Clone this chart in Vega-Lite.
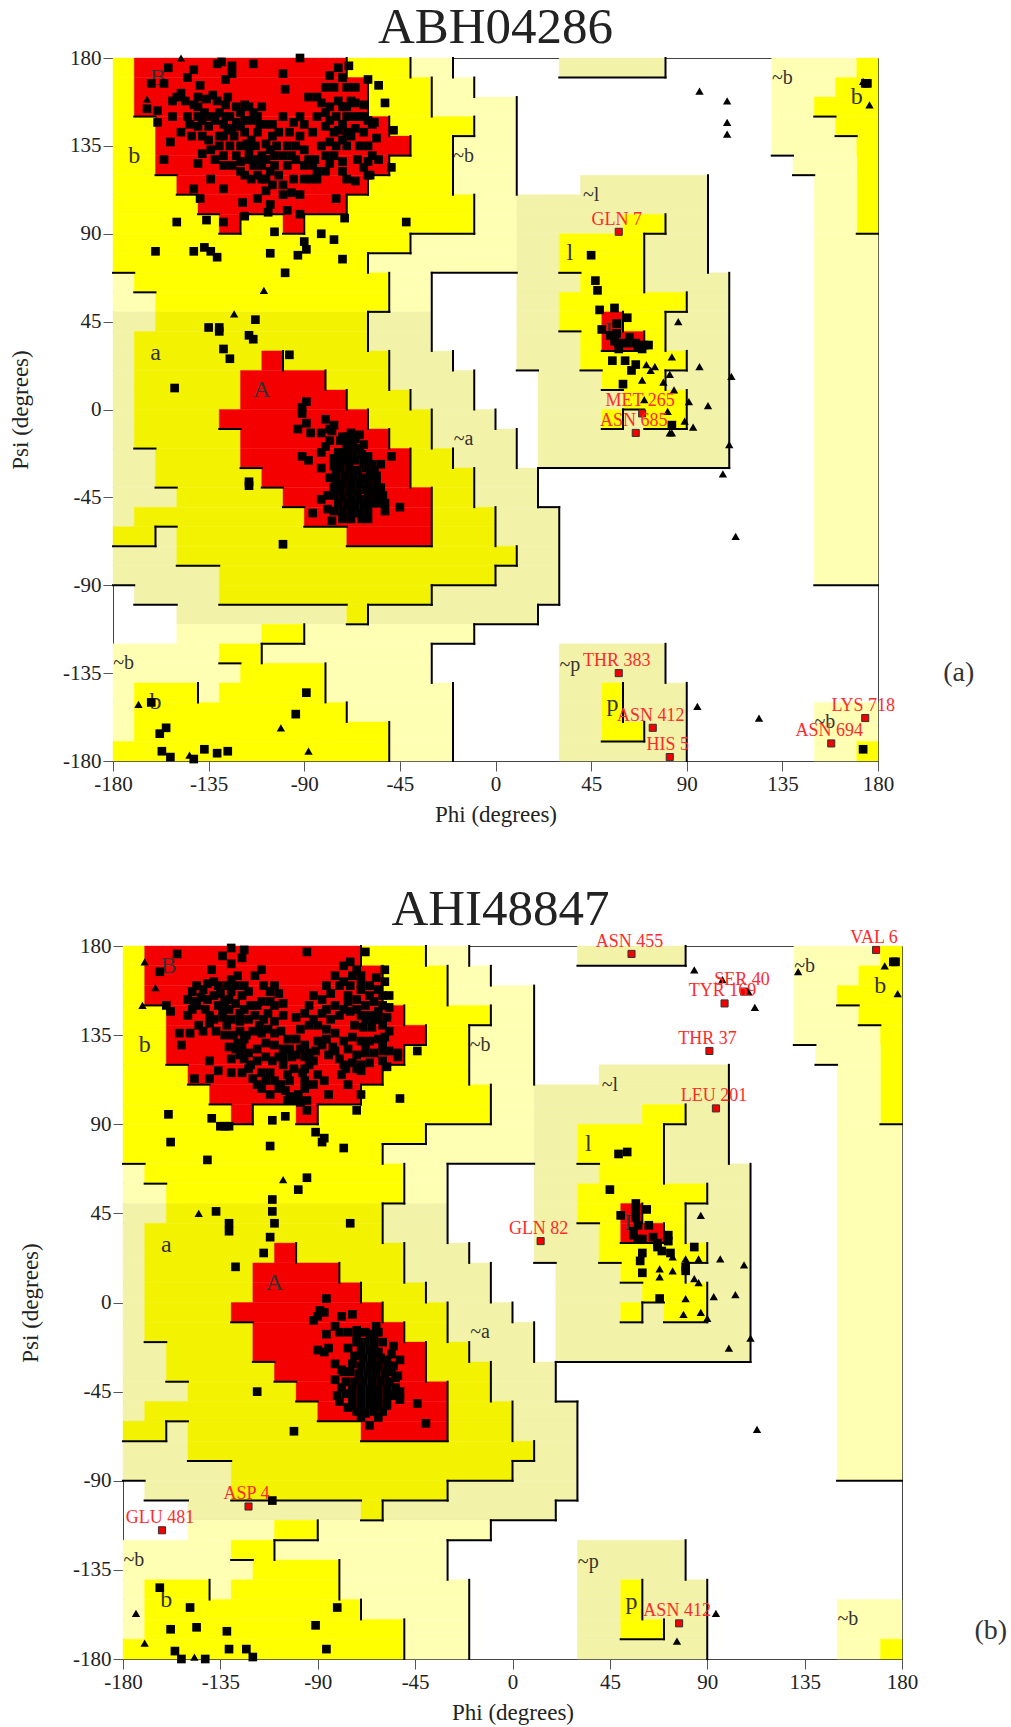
{"$schema":"https://vega.github.io/schema/vega-lite/v6.json","padding":{"left":8,"top":1,"right":0,"bottom":0},"background":"white","spacing":56,
"config":{"view":{"stroke":"#444","strokeWidth":1},"font":"Liberation Serif","axis":{"grid":false,"labelFont":"Liberation Serif","titleFont":"Liberation Serif","labelFontSize":21,"titleFontSize":23,"titleFontWeight":"normal","tickSize":10,"tickColor":"#555","domainColor":"#444","labelColor":"#222","titleColor":"#222","labelFlush":false,"labelOverlap":false}},
"datasets":{
"regions":[
{"x1":-180,"x2":-170,"y1":170,"y2":180,"z":"add"},{"x1":-170,"x2":-70,"y1":170,"y2":180,"z":"core"},{"x1":-70,"x2":-40,"y1":170,"y2":180,"z":"add"},{"x1":-40,"x2":-20,"y1":170,"y2":180,"z":"gen"},{"x1":30,"x2":80,"y1":170,"y2":180,"z":"genA"},{"x1":130,"x2":170,"y1":170,"y2":180,"z":"gen"},{"x1":170,"x2":180,"y1":170,"y2":180,"z":"add"},
{"x1":-180,"x2":-170,"y1":160,"y2":170,"z":"add"},{"x1":-170,"x2":-60,"y1":160,"y2":170,"z":"core"},{"x1":-60,"x2":-30,"y1":160,"y2":170,"z":"add"},{"x1":-30,"x2":-10,"y1":160,"y2":170,"z":"gen"},{"x1":130,"x2":160,"y1":160,"y2":170,"z":"gen"},{"x1":160,"x2":180,"y1":160,"y2":170,"z":"add"},
{"x1":-180,"x2":-170,"y1":150,"y2":160,"z":"add"},{"x1":-170,"x2":-60,"y1":150,"y2":160,"z":"core"},{"x1":-60,"x2":-30,"y1":150,"y2":160,"z":"add"},{"x1":-30,"x2":10,"y1":150,"y2":160,"z":"gen"},{"x1":130,"x2":150,"y1":150,"y2":160,"z":"gen"},{"x1":150,"x2":180,"y1":150,"y2":160,"z":"add"},
{"x1":-180,"x2":-160,"y1":140,"y2":150,"z":"add"},{"x1":-160,"x2":-50,"y1":140,"y2":150,"z":"core"},{"x1":-50,"x2":-10,"y1":140,"y2":150,"z":"add"},{"x1":-10,"x2":10,"y1":140,"y2":150,"z":"gen"},{"x1":130,"x2":160,"y1":140,"y2":150,"z":"gen"},{"x1":160,"x2":180,"y1":140,"y2":150,"z":"add"},
{"x1":-180,"x2":-160,"y1":130,"y2":140,"z":"add"},{"x1":-160,"x2":-40,"y1":130,"y2":140,"z":"core"},{"x1":-40,"x2":-20,"y1":130,"y2":140,"z":"add"},{"x1":-20,"x2":10,"y1":130,"y2":140,"z":"gen"},{"x1":130,"x2":170,"y1":130,"y2":140,"z":"gen"},{"x1":170,"x2":180,"y1":90,"y2":140,"z":"add"},
{"x1":-180,"x2":-160,"y1":120,"y2":130,"z":"add"},{"x1":-160,"x2":-50,"y1":120,"y2":130,"z":"core"},{"x1":-50,"x2":-20,"y1":120,"y2":130,"z":"add"},{"x1":-20,"x2":10,"y1":120,"y2":130,"z":"gen"},{"x1":140,"x2":170,"y1":120,"y2":130,"z":"gen"},
{"x1":-180,"x2":-150,"y1":110,"y2":120,"z":"add"},{"x1":-150,"x2":-60,"y1":110,"y2":120,"z":"core"},{"x1":-60,"x2":-20,"y1":110,"y2":120,"z":"add"},{"x1":-20,"x2":10,"y1":110,"y2":120,"z":"gen"},{"x1":40,"x2":100,"y1":110,"y2":120,"z":"genA"},{"x1":150,"x2":170,"y1":90,"y2":120,"z":"gen"},
{"x1":-180,"x2":-140,"y1":100,"y2":110,"z":"add"},{"x1":-140,"x2":-70,"y1":100,"y2":110,"z":"core"},{"x1":-70,"x2":-10,"y1":100,"y2":110,"z":"add"},{"x1":-10,"x2":10,"y1":100,"y2":110,"z":"gen"},{"x1":10,"x2":100,"y1":100,"y2":110,"z":"genA"},
{"x1":-180,"x2":-130,"y1":90,"y2":100,"z":"add"},{"x1":-130,"x2":-120,"y1":90,"y2":100,"z":"core"},{"x1":-120,"x2":-100,"y1":90,"y2":100,"z":"add"},{"x1":-100,"x2":-90,"y1":90,"y2":100,"z":"core"},{"x1":-90,"x2":-10,"y1":90,"y2":100,"z":"add"},{"x1":-10,"x2":10,"y1":90,"y2":100,"z":"gen"},{"x1":10,"x2":60,"y1":90,"y2":100,"z":"genA"},{"x1":60,"x2":80,"y1":90,"y2":100,"z":"add"},{"x1":80,"x2":100,"y1":90,"y2":100,"z":"genA"},
{"x1":-180,"x2":-40,"y1":80,"y2":90,"z":"add"},{"x1":-40,"x2":10,"y1":80,"y2":90,"z":"gen"},{"x1":10,"x2":30,"y1":80,"y2":90,"z":"genA"},{"x1":30,"x2":70,"y1":80,"y2":90,"z":"add"},{"x1":70,"x2":100,"y1":80,"y2":90,"z":"genA"},{"x1":150,"x2":180,"y1":-90,"y2":90,"z":"gen"},
{"x1":-180,"x2":-60,"y1":70,"y2":80,"z":"add"},{"x1":-60,"x2":10,"y1":70,"y2":80,"z":"gen"},{"x1":10,"x2":30,"y1":70,"y2":80,"z":"genA"},{"x1":30,"x2":70,"y1":70,"y2":80,"z":"add"},{"x1":70,"x2":100,"y1":70,"y2":80,"z":"genA"},
{"x1":-180,"x2":-170,"y1":60,"y2":70,"z":"gen"},{"x1":-170,"x2":-50,"y1":60,"y2":70,"z":"add"},{"x1":-50,"x2":-30,"y1":60,"y2":70,"z":"gen"},{"x1":10,"x2":40,"y1":60,"y2":70,"z":"genA"},{"x1":40,"x2":70,"y1":60,"y2":70,"z":"add"},{"x1":70,"x2":110,"y1":60,"y2":70,"z":"genA"},
{"x1":-180,"x2":-160,"y1":50,"y2":60,"z":"gen"},{"x1":-160,"x2":-50,"y1":50,"y2":60,"z":"add"},{"x1":-50,"x2":-30,"y1":50,"y2":60,"z":"gen"},{"x1":10,"x2":30,"y1":50,"y2":60,"z":"genA"},{"x1":30,"x2":90,"y1":50,"y2":60,"z":"add"},{"x1":90,"x2":110,"y1":50,"y2":60,"z":"genA"},
{"x1":-180,"x2":-160,"y1":40,"y2":50,"z":"genA"},{"x1":-160,"x2":-60,"y1":40,"y2":50,"z":"addA"},{"x1":-60,"x2":-30,"y1":40,"y2":50,"z":"genA"},{"x1":10,"x2":30,"y1":40,"y2":50,"z":"genA"},{"x1":30,"x2":50,"y1":40,"y2":50,"z":"add"},{"x1":50,"x2":60,"y1":40,"y2":50,"z":"core"},{"x1":60,"x2":80,"y1":40,"y2":50,"z":"add"},{"x1":80,"x2":110,"y1":40,"y2":50,"z":"genA"},
{"x1":-180,"x2":-170,"y1":30,"y2":40,"z":"genA"},{"x1":-170,"x2":-60,"y1":30,"y2":40,"z":"addA"},{"x1":-60,"x2":-30,"y1":30,"y2":40,"z":"genA"},{"x1":10,"x2":40,"y1":30,"y2":40,"z":"genA"},{"x1":40,"x2":50,"y1":30,"y2":40,"z":"add"},{"x1":50,"x2":70,"y1":30,"y2":40,"z":"core"},{"x1":70,"x2":80,"y1":30,"y2":40,"z":"add"},{"x1":80,"x2":110,"y1":30,"y2":40,"z":"genA"},
{"x1":-180,"x2":-170,"y1":20,"y2":30,"z":"genA"},{"x1":-170,"x2":-110,"y1":20,"y2":30,"z":"addA"},{"x1":-110,"x2":-100,"y1":20,"y2":30,"z":"core"},{"x1":-100,"x2":-50,"y1":20,"y2":30,"z":"addA"},{"x1":-50,"x2":-20,"y1":20,"y2":30,"z":"genA"},{"x1":10,"x2":40,"y1":20,"y2":30,"z":"genA"},{"x1":40,"x2":90,"y1":20,"y2":30,"z":"add"},{"x1":90,"x2":110,"y1":20,"y2":30,"z":"genA"},
{"x1":-180,"x2":-170,"y1":10,"y2":20,"z":"genA"},{"x1":-170,"x2":-120,"y1":10,"y2":20,"z":"addA"},{"x1":-120,"x2":-80,"y1":10,"y2":20,"z":"core"},{"x1":-80,"x2":-50,"y1":10,"y2":20,"z":"addA"},{"x1":-50,"x2":-10,"y1":10,"y2":20,"z":"genA"},{"x1":20,"x2":50,"y1":10,"y2":20,"z":"genA"},{"x1":50,"x2":80,"y1":10,"y2":20,"z":"add"},{"x1":80,"x2":110,"y1":10,"y2":20,"z":"genA"},
{"x1":-180,"x2":-170,"y1":0,"y2":10,"z":"genA"},{"x1":-170,"x2":-120,"y1":0,"y2":10,"z":"addA"},{"x1":-120,"x2":-70,"y1":0,"y2":10,"z":"core"},{"x1":-70,"x2":-40,"y1":0,"y2":10,"z":"addA"},{"x1":-40,"x2":-10,"y1":0,"y2":10,"z":"genA"},{"x1":20,"x2":60,"y1":0,"y2":10,"z":"genA"},{"x1":60,"x2":90,"y1":0,"y2":10,"z":"add"},{"x1":90,"x2":110,"y1":0,"y2":10,"z":"genA"},
{"x1":-180,"x2":-170,"y1":-10,"y2":0,"z":"genA"},{"x1":-170,"x2":-130,"y1":-10,"y2":0,"z":"addA"},{"x1":-130,"x2":-60,"y1":-10,"y2":0,"z":"core"},{"x1":-60,"x2":-30,"y1":-10,"y2":0,"z":"addA"},{"x1":-30,"x2":0,"y1":-10,"y2":0,"z":"genA"},{"x1":20,"x2":50,"y1":-10,"y2":0,"z":"genA"},{"x1":50,"x2":60,"y1":-10,"y2":0,"z":"add"},{"x1":60,"x2":70,"y1":-10,"y2":0,"z":"genA"},{"x1":70,"x2":90,"y1":-10,"y2":0,"z":"add"},{"x1":90,"x2":110,"y1":-10,"y2":0,"z":"genA"},
{"x1":-180,"x2":-170,"y1":-20,"y2":-10,"z":"genA"},{"x1":-170,"x2":-120,"y1":-20,"y2":-10,"z":"addA"},{"x1":-120,"x2":-50,"y1":-20,"y2":-10,"z":"core"},{"x1":-50,"x2":-30,"y1":-20,"y2":-10,"z":"addA"},{"x1":-30,"x2":10,"y1":-20,"y2":-10,"z":"genA"},{"x1":20,"x2":110,"y1":-20,"y2":-10,"z":"genA"},
{"x1":-180,"x2":-160,"y1":-30,"y2":-20,"z":"genA"},{"x1":-160,"x2":-120,"y1":-30,"y2":-20,"z":"addA"},{"x1":-120,"x2":-40,"y1":-30,"y2":-20,"z":"core"},{"x1":-40,"x2":-20,"y1":-30,"y2":-20,"z":"addA"},{"x1":-20,"x2":10,"y1":-30,"y2":-20,"z":"genA"},{"x1":20,"x2":110,"y1":-30,"y2":-20,"z":"genA"},
{"x1":-180,"x2":-160,"y1":-40,"y2":-30,"z":"genA"},{"x1":-160,"x2":-110,"y1":-40,"y2":-30,"z":"addA"},{"x1":-110,"x2":-40,"y1":-40,"y2":-30,"z":"core"},{"x1":-40,"x2":-10,"y1":-40,"y2":-30,"z":"addA"},{"x1":-10,"x2":20,"y1":-40,"y2":-30,"z":"genA"},
{"x1":-180,"x2":-150,"y1":-50,"y2":-40,"z":"genA"},{"x1":-150,"x2":-100,"y1":-50,"y2":-40,"z":"addA"},{"x1":-100,"x2":-30,"y1":-50,"y2":-40,"z":"core"},{"x1":-30,"x2":-10,"y1":-50,"y2":-40,"z":"addA"},{"x1":-10,"x2":20,"y1":-50,"y2":-40,"z":"genA"},
{"x1":-180,"x2":-170,"y1":-60,"y2":-50,"z":"genA"},{"x1":-170,"x2":-90,"y1":-60,"y2":-50,"z":"addA"},{"x1":-90,"x2":-30,"y1":-60,"y2":-50,"z":"core"},{"x1":-30,"x2":0,"y1":-60,"y2":-50,"z":"addA"},{"x1":0,"x2":30,"y1":-60,"y2":-50,"z":"genA"},
{"x1":-180,"x2":-160,"y1":-70,"y2":-60,"z":"addA"},{"x1":-160,"x2":-150,"y1":-70,"y2":-60,"z":"genA"},{"x1":-150,"x2":-70,"y1":-70,"y2":-60,"z":"addA"},{"x1":-70,"x2":-30,"y1":-70,"y2":-60,"z":"core"},{"x1":-30,"x2":0,"y1":-70,"y2":-60,"z":"addA"},{"x1":0,"x2":30,"y1":-70,"y2":-60,"z":"genA"},
{"x1":-180,"x2":-150,"y1":-80,"y2":-70,"z":"genA"},{"x1":-150,"x2":10,"y1":-80,"y2":-70,"z":"addA"},{"x1":10,"x2":30,"y1":-80,"y2":-70,"z":"genA"},
{"x1":-180,"x2":-130,"y1":-90,"y2":-80,"z":"genA"},{"x1":-130,"x2":0,"y1":-90,"y2":-80,"z":"addA"},{"x1":0,"x2":30,"y1":-90,"y2":-80,"z":"genA"},
{"x1":-170,"x2":-130,"y1":-100,"y2":-90,"z":"genA"},{"x1":-130,"x2":-30,"y1":-100,"y2":-90,"z":"addA"},{"x1":-30,"x2":30,"y1":-100,"y2":-90,"z":"genA"},
{"x1":-150,"x2":-70,"y1":-110,"y2":-100,"z":"genA"},{"x1":-70,"x2":-60,"y1":-110,"y2":-100,"z":"addA"},{"x1":-60,"x2":20,"y1":-110,"y2":-100,"z":"genA"},
{"x1":-150,"x2":-110,"y1":-120,"y2":-110,"z":"gen"},{"x1":-110,"x2":-90,"y1":-120,"y2":-110,"z":"add"},{"x1":-90,"x2":-10,"y1":-120,"y2":-110,"z":"gen"},
{"x1":-180,"x2":-130,"y1":-130,"y2":-120,"z":"gen"},{"x1":-130,"x2":-110,"y1":-130,"y2":-120,"z":"add"},{"x1":-110,"x2":-30,"y1":-130,"y2":-120,"z":"gen"},{"x1":30,"x2":80,"y1":-130,"y2":-120,"z":"genA"},
{"x1":-180,"x2":-120,"y1":-140,"y2":-130,"z":"gen"},{"x1":-120,"x2":-80,"y1":-140,"y2":-130,"z":"add"},{"x1":-80,"x2":-30,"y1":-140,"y2":-130,"z":"gen"},{"x1":30,"x2":80,"y1":-140,"y2":-130,"z":"genA"},
{"x1":-180,"x2":-170,"y1":-150,"y2":-140,"z":"gen"},{"x1":-170,"x2":-140,"y1":-150,"y2":-140,"z":"add"},{"x1":-140,"x2":-130,"y1":-150,"y2":-140,"z":"gen"},{"x1":-130,"x2":-80,"y1":-150,"y2":-140,"z":"add"},{"x1":-80,"x2":-20,"y1":-150,"y2":-140,"z":"gen"},{"x1":30,"x2":50,"y1":-150,"y2":-140,"z":"genA"},{"x1":50,"x2":60,"y1":-150,"y2":-140,"z":"add"},{"x1":60,"x2":90,"y1":-150,"y2":-140,"z":"genA"},
{"x1":-180,"x2":-170,"y1":-160,"y2":-150,"z":"gen"},{"x1":-170,"x2":-70,"y1":-160,"y2":-150,"z":"add"},{"x1":-70,"x2":-20,"y1":-160,"y2":-150,"z":"gen"},{"x1":30,"x2":50,"y1":-160,"y2":-150,"z":"genA"},{"x1":50,"x2":60,"y1":-160,"y2":-150,"z":"add"},{"x1":60,"x2":90,"y1":-160,"y2":-150,"z":"genA"},{"x1":150,"x2":180,"y1":-170,"y2":-150,"z":"gen"},
{"x1":-180,"x2":-170,"y1":-170,"y2":-160,"z":"gen"},{"x1":-170,"x2":-50,"y1":-170,"y2":-160,"z":"add"},{"x1":-50,"x2":-20,"y1":-170,"y2":-160,"z":"gen"},{"x1":30,"x2":50,"y1":-170,"y2":-160,"z":"genA"},{"x1":50,"x2":70,"y1":-170,"y2":-160,"z":"add"},{"x1":70,"x2":90,"y1":-170,"y2":-160,"z":"genA"},
{"x1":-180,"x2":-50,"y1":-180,"y2":-170,"z":"add"},{"x1":-50,"x2":-20,"y1":-180,"y2":-170,"z":"gen"},{"x1":30,"x2":90,"y1":-180,"y2":-170,"z":"genA"},{"x1":150,"x2":170,"y1":-180,"y2":-170,"z":"gen"},{"x1":170,"x2":180,"y1":-180,"y2":-170,"z":"add"}
],
"edges":[
{"x1":-160,"x2":-160,"y1":-70,"y2":-60},{"x1":-140,"x2":-140,"y1":-150,"y2":-140},{"x1":-120,"x2":-120,"y1":90,"y2":100},{"x1":-110,"x2":-110,"y1":-130,"y2":-120},{"x1":-100,"x2":-100,"y1":20,"y2":30},{"x1":-90,"x2":-90,"y1":90,"y2":100},{"x1":-90,"x2":-90,"y1":-120,"y2":-110},{"x1":-80,"x2":-80,"y1":10,"y2":20},{"x1":-80,"x2":-80,"y1":-150,"y2":-130},
{"x1":-70,"x2":-70,"y1":170,"y2":180},{"x1":-70,"x2":-70,"y1":100,"y2":110},{"x1":-70,"x2":-70,"y1":0,"y2":10},{"x1":-70,"x2":-70,"y1":-160,"y2":-150},
{"x1":-60,"x2":-60,"y1":150,"y2":170},{"x1":-60,"x2":-60,"y1":110,"y2":120},{"x1":-60,"x2":-60,"y1":70,"y2":80},{"x1":-60,"x2":-60,"y1":30,"y2":50},{"x1":-60,"x2":-60,"y1":-10,"y2":0},{"x1":-60,"x2":-60,"y1":-110,"y2":-100},
{"x1":-50,"x2":-50,"y1":140,"y2":150},{"x1":-50,"x2":-50,"y1":120,"y2":130},{"x1":-50,"x2":-50,"y1":50,"y2":70},{"x1":-50,"x2":-50,"y1":10,"y2":30},{"x1":-50,"x2":-50,"y1":-20,"y2":-10},{"x1":-50,"x2":-50,"y1":-180,"y2":-160},
{"x1":-40,"x2":-40,"y1":170,"y2":180},{"x1":-40,"x2":-40,"y1":130,"y2":140},{"x1":-40,"x2":-40,"y1":80,"y2":90},{"x1":-40,"x2":-40,"y1":0,"y2":10},{"x1":-40,"x2":-40,"y1":-40,"y2":-20},
{"x1":-30,"x2":-30,"y1":150,"y2":170},{"x1":-30,"x2":-30,"y1":30,"y2":70},{"x1":-30,"x2":-30,"y1":-20,"y2":0},{"x1":-30,"x2":-30,"y1":-70,"y2":-40},{"x1":-30,"x2":-30,"y1":-100,"y2":-90},{"x1":-30,"x2":-30,"y1":-140,"y2":-120},
{"x1":-20,"x2":-20,"y1":170,"y2":180},{"x1":-20,"x2":-20,"y1":110,"y2":140},{"x1":-20,"x2":-20,"y1":20,"y2":30},{"x1":-20,"x2":-20,"y1":-30,"y2":-20},{"x1":-20,"x2":-20,"y1":-180,"y2":-140},
{"x1":-10,"x2":-10,"y1":160,"y2":170},{"x1":-10,"x2":-10,"y1":140,"y2":150},{"x1":-10,"x2":-10,"y1":90,"y2":110},{"x1":-10,"x2":-10,"y1":0,"y2":20},{"x1":-10,"x2":-10,"y1":-50,"y2":-30},{"x1":-10,"x2":-10,"y1":-120,"y2":-110},
{"x1":0,"x2":0,"y1":-10,"y2":0},{"x1":0,"x2":0,"y1":-70,"y2":-50},{"x1":0,"x2":0,"y1":-90,"y2":-80},
{"x1":10,"x2":10,"y1":110,"y2":160},{"x1":10,"x2":10,"y1":-30,"y2":-10},{"x1":10,"x2":10,"y1":-80,"y2":-70},{"x1":20,"x2":20,"y1":-50,"y2":-30},{"x1":20,"x2":20,"y1":-110,"y2":-100},{"x1":30,"x2":30,"y1":-100,"y2":-50},
{"x1":60,"x2":60,"y1":40,"y2":50},{"x1":60,"x2":60,"y1":-10,"y2":0},{"x1":60,"x2":60,"y1":-160,"y2":-140},{"x1":70,"x2":70,"y1":60,"y2":90},{"x1":70,"x2":70,"y1":30,"y2":40},{"x1":70,"x2":70,"y1":-170,"y2":-160},
{"x1":80,"x2":80,"y1":170,"y2":180},{"x1":80,"x2":80,"y1":90,"y2":100},{"x1":80,"x2":80,"y1":30,"y2":50},{"x1":80,"x2":80,"y1":10,"y2":20},{"x1":80,"x2":80,"y1":-140,"y2":-120},
{"x1":90,"x2":90,"y1":50,"y2":60},{"x1":90,"x2":90,"y1":20,"y2":30},{"x1":90,"x2":90,"y1":-10,"y2":10},{"x1":90,"x2":90,"y1":-180,"y2":-140},{"x1":100,"x2":100,"y1":70,"y2":120},{"x1":110,"x2":110,"y1":-30,"y2":70},
{"x1":30,"x2":80,"y1":170,"y2":170},{"x1":-170,"x2":-160,"y1":150,"y2":150},{"x1":150,"x2":160,"y1":150,"y2":150},{"x1":-20,"x2":-10,"y1":140,"y2":140},{"x1":160,"x2":170,"y1":140,"y2":140},{"x1":-50,"x2":-40,"y1":130,"y2":130},{"x1":130,"x2":140,"y1":130,"y2":130},
{"x1":-160,"x2":-150,"y1":120,"y2":120},{"x1":-60,"x2":-50,"y1":120,"y2":120},{"x1":140,"x2":150,"y1":120,"y2":120},{"x1":-150,"x2":-140,"y1":110,"y2":110},{"x1":-70,"x2":-60,"y1":110,"y2":110},
{"x1":-140,"x2":-130,"y1":100,"y2":100},{"x1":-120,"x2":-100,"y1":100,"y2":100},{"x1":-90,"x2":-70,"y1":100,"y2":100},
{"x1":-130,"x2":-120,"y1":90,"y2":90},{"x1":-100,"x2":-90,"y1":90,"y2":90},{"x1":-40,"x2":-10,"y1":90,"y2":90},{"x1":70,"x2":80,"y1":90,"y2":90},{"x1":170,"x2":180,"y1":90,"y2":90},
{"x1":-60,"x2":-40,"y1":80,"y2":80},{"x1":-180,"x2":-170,"y1":70,"y2":70},{"x1":-30,"x2":10,"y1":70,"y2":70},{"x1":30,"x2":40,"y1":70,"y2":70},{"x1":-170,"x2":-160,"y1":60,"y2":60},{"x1":-60,"x2":-50,"y1":50,"y2":50},{"x1":80,"x2":90,"y1":50,"y2":50},{"x1":30,"x2":40,"y1":40,"y2":40},{"x1":50,"x2":70,"y1":30,"y2":30},
{"x1":10,"x2":20,"y1":20,"y2":20},{"x1":40,"x2":50,"y1":20,"y2":20},{"x1":80,"x2":90,"y1":20,"y2":20},{"x1":50,"x2":60,"y1":10,"y2":10},{"x1":60,"x2":70,"y1":0,"y2":0},
{"x1":-130,"x2":-120,"y1":-10,"y2":-10},{"x1":50,"x2":60,"y1":-10,"y2":-10},{"x1":70,"x2":90,"y1":-10,"y2":-10},{"x1":-170,"x2":-160,"y1":-20,"y2":-20},{"x1":20,"x2":110,"y1":-30,"y2":-30},{"x1":-120,"x2":-110,"y1":-30,"y2":-30},{"x1":-160,"x2":-150,"y1":-40,"y2":-40},{"x1":-110,"x2":-100,"y1":-40,"y2":-40},{"x1":-100,"x2":-90,"y1":-50,"y2":-50},{"x1":20,"x2":30,"y1":-50,"y2":-50},{"x1":-160,"x2":-150,"y1":-60,"y2":-60},{"x1":-90,"x2":-70,"y1":-60,"y2":-60},
{"x1":-180,"x2":-160,"y1":-70,"y2":-70},{"x1":-70,"x2":-30,"y1":-70,"y2":-70},{"x1":-150,"x2":-130,"y1":-80,"y2":-80},{"x1":0,"x2":10,"y1":-80,"y2":-80},{"x1":-180,"x2":-170,"y1":-90,"y2":-90},{"x1":-30,"x2":0,"y1":-90,"y2":-90},{"x1":150,"x2":180,"y1":-90,"y2":-90},
{"x1":-170,"x2":-150,"y1":-100,"y2":-100},{"x1":-130,"x2":-70,"y1":-100,"y2":-100},{"x1":-60,"x2":-30,"y1":-100,"y2":-100},{"x1":20,"x2":30,"y1":-100,"y2":-100},{"x1":-70,"x2":-60,"y1":-110,"y2":-110},{"x1":-10,"x2":20,"y1":-110,"y2":-110},{"x1":-110,"x2":-90,"y1":-120,"y2":-120},{"x1":-30,"x2":-10,"y1":-120,"y2":-120},{"x1":-130,"x2":-120,"y1":-130,"y2":-130},{"x1":50,"x2":70,"y1":-170,"y2":-170}
],
"zoneLabels":[{"t":"B","phi":-159,"psi":170},{"t":"b","phi":-170,"psi":130},{"t":"a","phi":-160,"psi":29},{"t":"A","phi":-110,"psi":10},{"t":"b","phi":-160,"psi":-150},{"t":"l","phi":35,"psi":80},{"t":"L","phi":55,"psi":40},{"t":"b","phi":170,"psi":160},{"t":"p","phi":55,"psi":-151}],
"fringeLabels":[{"t":"~b","phi":-15,"psi":130},{"t":"~a","phi":-15,"psi":-15},{"t":"~b","phi":-175,"psi":-130},{"t":"~l","phi":45,"psi":110},{"t":"~b","phi":135,"psi":170},{"t":"~p","phi":35,"psi":-131},{"t":"~b","phi":155,"psi":-160}],
"flaggedA":[{"t":"GLN 7","phi":58,"psi":91},{"t":"MET 265","phi":69,"psi":-2},{"t":"ASN 685","phi":66,"psi":-12},{"t":"THR 383","phi":58,"psi":-135},{"t":"ASN 412","phi":74,"psi":-163},{"t":"HIS 5","phi":82,"psi":-178},{"t":"LYS 718","phi":174,"psi":-158},{"t":"ASN 694","phi":158,"psi":-171}],
"flaggedB":[{"t":"ASN 455","phi":55,"psi":176},{"t":"VAL 6","phi":168,"psi":178},{"t":"SER 40","phi":107,"psi":157},{"t":"TYR 169","phi":98,"psi":151},{"t":"THR 37","phi":91,"psi":127},{"t":"LEU 201","phi":94,"psi":98},{"t":"GLN 82","phi":13,"psi":31},{"t":"ASP 4","phi":-122,"psi":-103},{"t":"GLU 481","phi":-162,"psi":-115},{"t":"ASN 412","phi":77,"psi":-162}],
"triA":[{"phi":-164,"psi":159},{"phi":-148,"psi":180},{"phi":-109,"psi":61},{"phi":-123,"psi":49},{"phi":-168,"psi":-151},{"phi":-144,"psi":-177},{"phi":-101,"psi":-163},{"phi":-88,"psi":-175},{"phi":96,"psi":163},{"phi":109,"psi":158},{"phi":109,"psi":147},{"phi":109,"psi":141},{"phi":173,"psi":168},{"phi":176,"psi":156},{"phi":86,"psi":45},{"phi":83,"psi":27},{"phi":71,"psi":23},{"phi":75,"psi":22},{"phi":73,"psi":20},{"phi":96,"psi":22},{"phi":82,"psi":18},{"phi":79,"psi":14},{"phi":111,"psi":17},{"phi":69,"psi":15},{"phi":84,"psi":10},{"phi":70,"psi":5},{"phi":91,"psi":4},{"phi":100,"psi":2},{"phi":81,"psi":-1},{"phi":89,"psi":-6},{"phi":93,"psi":-9},{"phi":82,"psi":-12},{"phi":83,"psi":-12},{"phi":110,"psi":-18},{"phi":107,"psi":-33},{"phi":113,"psi":-65},{"phi":95,"psi":-152},{"phi":124,"psi":-158}],
"triB":[{"phi":-170,"psi":172},{"phi":-165,"psi":159},{"phi":-171,"psi":150},{"phi":-106,"psi":62},{"phi":-145,"psi":45},{"phi":-174,"psi":-157},{"phi":-170,"psi":-172},{"phi":-147,"psi":-179},{"phi":84,"psi":168},{"phi":97,"psi":163},{"phi":109,"psi":157},{"phi":112,"psi":149},{"phi":132,"psi":167},{"phi":172,"psi":170},{"phi":178,"psi":156},{"phi":87,"psi":44},{"phi":74,"psi":23},{"phi":80,"psi":22},{"phi":86,"psi":22},{"phi":96,"psi":22},{"phi":107,"psi":19},{"phi":68,"psi":17},{"phi":74,"psi":16},{"phi":68,"psi":13},{"phi":84,"psi":12},{"phi":86,"psi":10},{"phi":93,"psi":3},{"phi":103,"psi":4},{"phi":80,"psi":2},{"phi":79,"psi":-6},{"phi":87,"psi":-5},{"phi":90,"psi":-8},{"phi":110,"psi":-18},{"phi":100,"psi":-23},{"phi":113,"psi":-64},{"phi":94,"psi":-157},{"phi":76,"psi":-171}],
"sqA":[{"phi":-154,"psi":175},{"phi":-142,"psi":174},{"phi":-145,"psi":170},{"phi":-131,"psi":177},{"phi":-129,"psi":178},{"phi":-124,"psi":176},{"phi":-124,"psi":172},{"phi":-127,"psi":169},{"phi":-114,"psi":177},{"phi":-100,"psi":172},{"phi":-92,"psi":180},{"phi":-99,"psi":164},{"phi":-74,"psi":175},{"phi":-69,"psi":176},{"phi":-78,"psi":171},{"phi":-60,"psi":169},{"phi":-55,"psi":166},{"phi":-52,"psi":157},{"phi":-162,"psi":167},{"phi":-156,"psi":167},{"phi":-139,"psi":166},{"phi":-164,"psi":154},{"phi":-159,"psi":147},{"phi":-159,"psi":153},{"phi":-153,"psi":137},{"phi":-156,"psi":128},{"phi":-140,"psi":126},{"phi":-138,"psi":131},{"phi":-142,"psi":113},{"phi":-139,"psi":108},{"phi":-128,"psi":113},{"phi":-134,"psi":118},{"phi":-119,"psi":106},{"phi":-118,"psi":99},{"phi":-128,"psi":96},{"phi":-136,"psi":97},{"phi":-150,"psi":96},{"phi":-107,"psi":101},{"phi":-98,"psi":102},{"phi":-92,"psi":100},{"phi":-71,"psi":98},{"phi":-42,"psi":96},{"phi":-75,"psi":108},{"phi":-48,"psi":143},{"phi":-49,"psi":124},{"phi":-59,"psi":120},{"phi":-104,"psi":91},{"phi":-82,"psi":90},{"phi":-76,"psi":87},{"phi":-90,"psi":86},{"phi":-89,"psi":82},{"phi":-93,"psi":79},{"phi":-106,"psi":80},{"phi":-72,"psi":77},{"phi":-99,"psi":70},{"phi":-131,"psi":78},{"phi":-134,"psi":81},{"phi":-137,"psi":83},{"phi":-142,"psi":81},{"phi":-160,"psi":81},{"phi":-113,"psi":46},{"phi":-135,"psi":42},{"phi":-130,"psi":42},{"phi":-130,"psi":40},{"phi":-116,"psi":38},{"phi":-114,"psi":36},{"phi":-128,"psi":31},{"phi":-125,"psi":26},{"phi":-151,"psi":11},{"phi":-97,"psi":28},{"phi":-89,"psi":4},{"phi":-91,"psi":1},
{"phi":-140,"psi":155},{"phi":-142,"psi":156},{"phi":-136,"psi":159},{"phi":-133,"psi":161},{"phi":-131,"psi":158},{"phi":-127,"psi":156},{"phi":-130,"psi":152},{"phi":-150,"psi":160},{"phi":-148,"psi":162},{"phi":-152,"psi":158},{"phi":-146,"psi":158},{"phi":-152,"psi":150},{"phi":-145,"psi":150},{"phi":-140,"psi":150},{"phi":-148,"psi":142},{"phi":-143,"psi":140},{"phi":-138,"psi":148},{"phi":-135,"psi":145},{"phi":-132,"psi":148},{"phi":-128,"psi":146},{"phi":-125,"psi":150},{"phi":-120,"psi":152},{"phi":-118,"psi":156},{"phi":-116,"psi":155},{"phi":-115,"psi":148},{"phi":-112,"psi":150},{"phi":-120,"psi":145},{"phi":-123,"psi":140},{"phi":-118,"psi":142},{"phi":-112,"psi":142},{"phi":-108,"psi":146},{"phi":-105,"psi":140},{"phi":-135,"psi":138},{"phi":-130,"psi":135},{"phi":-125,"psi":135},{"phi":-120,"psi":135},{"phi":-132,"psi":128},{"phi":-128,"psi":125},{"phi":-122,"psi":130},{"phi":-116,"psi":132},{"phi":-113,"psi":135},{"phi":-110,"psi":130},{"phi":-114,"psi":125},{"phi":-112,"psi":120},{"phi":-108,"psi":128},{"phi":-104,"psi":125},{"phi":-100,"psi":130},{"phi":-98,"psi":135},{"phi":-103,"psi":135},{"phi":-102,"psi":142},{"phi":-97,"psi":142},{"phi":-100,"psi":150},{"phi":-95,"psi":147},{"phi":-92,"psi":140},{"phi":-92,"psi":150},{"phi":-90,"psi":146},{"phi":-94,"psi":128},{"phi":-90,"psi":125},{"phi":-88,"psi":128},{"phi":-87,"psi":118},{"phi":-85,"psi":128},{"phi":-88,"psi":160},{"phi":-84,"psi":160},{"phi":-82,"psi":157},{"phi":-80,"psi":165},{"phi":-76,"psi":165},{"phi":-70,"psi":165},{"phi":-72,"psi":155},{"phi":-68,"psi":158},{"phi":-66,"psi":157},{"phi":-62,"psi":156},{"phi":-64,"psi":150},{"phi":-60,"psi":148},{"phi":-70,"psi":150},{"phi":-72,"psi":146},{"phi":-75,"psi":150},{"phi":-78,"psi":148},{"phi":-80,"psi":145},{"phi":-66,"psi":144},{"phi":-62,"psi":142},{"phi":-58,"psi":146},{"phi":-57,"psi":147},{"phi":-68,"psi":140},{"phi":-72,"psi":138},{"phi":-76,"psi":142},{"phi":-82,"psi":135},{"phi":-80,"psi":130},{"phi":-75,"psi":135},{"phi":-70,"psi":135},{"phi":-64,"psi":135},{"phi":-60,"psi":135},{"phi":-56,"psi":139},{"phi":-58,"psi":130},{"phi":-60,"psi":127},{"phi":-62,"psi":124},{"phi":-65,"psi":128},{"phi":-55,"psi":128},{"phi":-72,"psi":127},{"phi":-72,"psi":122},{"phi":-70,"psi":118},{"phi":-66,"psi":117},{"phi":-60,"psi":120},{"phi":-80,"psi":122},{"phi":-84,"psi":118},{"phi":-90,"psi":118},{"phi":-95,"psi":118},{"phi":-100,"psi":115},{"phi":-105,"psi":115},{"phi":-110,"psi":118},{"phi":-115,"psi":118},{"phi":-100,"psi":110},{"phi":-96,"psi":111},{"phi":-92,"psi":110},{"phi":-108,"psi":112},{"phi":-112,"psi":108},{"phi":-106,"psi":105},
{"phi":-140,"psi":145},{"phi":-137,"psi":152},{"phi":-134,"psi":150},{"phi":-127,"psi":150},{"phi":-122,"psi":147},{"phi":-126,"psi":143},{"phi":-130,"psi":140},{"phi":-134,"psi":133},{"phi":-128,"psi":130},{"phi":-124,"psi":125},{"phi":-120,"psi":127},{"phi":-117,"psi":136},{"phi":-115,"psi":138},{"phi":-111,"psi":146},{"phi":-108,"psi":136},{"phi":-106,"psi":133},{"phi":-110,"psi":125},{"phi":-116,"psi":128},{"phi":-118,"psi":120},{"phi":-120,"psi":122},{"phi":-108,"psi":118},{"phi":-106,"psi":122},{"phi":-102,"psi":120},{"phi":-98,"psi":125},{"phi":-96,"psi":130},{"phi":-94,"psi":135},{"phi":-90,"psi":133},{"phi":-86,"psi":125},{"phi":-84,"psi":122},{"phi":-78,"psi":126},{"phi":-76,"psi":130},{"phi":-78,"psi":137},{"phi":-74,"psi":143},{"phi":-70,"psi":142},{"phi":-66,"psi":150},{"phi":-62,"psi":150},{"phi":-70,"psi":155},{"phi":-74,"psi":158},{"phi":-78,"psi":155},{"phi":-66,"psi":165},{"phi":-72,"psi":170},{"phi":-80,"psi":152},{"phi":-84,"psi":150},{"phi":-86,"psi":142},{"phi":-140,"psi":160},{"phi":-144,"psi":146},{"phi":-126,"psi":160},{"phi":-122,"psi":155},{"phi":-112,"psi":128},{"phi":-104,"psi":130},{"phi":-105,"psi":146},{"phi":-110,"psi":155},{"phi":-128,"psi":140},{"phi":-124,"psi":144},{"phi":-118,"psi":148},{"phi":-114,"psi":152},{"phi":-138,"psi":140},
{"phi":-91,"psi":-2},{"phi":-89,"psi":-7},{"phi":-93,"psi":-10},{"phi":-87,"psi":-12},{"phi":-80,"psi":-5},{"phi":-76,"psi":-8},{"phi":-78,"psi":-10},{"phi":-82,"psi":-12},{"phi":-77,"psi":-11},{"phi":-68,"psi":-12},{"phi":-64,"psi":-13},{"phi":-78,"psi":-16},{"phi":-73,"psi":-16},{"phi":-72,"psi":-14},{"phi":-80,"psi":-19},{"phi":-82,"psi":-22},{"phi":-91,"psi":-24},{"phi":-88,"psi":-26},{"phi":-82,"psi":-30},{"phi":-49,"psi":-24},{"phi":-54,"psi":-28},{"phi":-76,"psi":-25},{"phi":-116,"psi":-37},{"phi":-116,"psi":-39},{"phi":-100,"psi":-69},{"phi":-45,"psi":-50},{"phi":-52,"psi":-52},{"phi":-63,"psi":-56},{"phi":-77,"psi":-57},{"phi":-86,"psi":-53},{"phi":-79,"psi":-51},{"phi":-82,"psi":-46},{"phi":-79,"psi":-44},
{"phi":-70,"psi":-18},{"phi":-67,"psi":-18},{"phi":-64,"psi":-20},{"phi":-71,"psi":-22},{"phi":-67,"psi":-22},{"phi":-63,"psi":-23},{"phi":-60,"psi":-24},{"phi":-73,"psi":-26},{"phi":-70,"psi":-26},{"phi":-66,"psi":-26},{"phi":-62,"psi":-27},{"phi":-58,"psi":-28},{"phi":-76,"psi":-29},{"phi":-73,"psi":-30},{"phi":-69,"psi":-30},{"phi":-65,"psi":-31},{"phi":-61,"psi":-30},{"phi":-57,"psi":-31},{"phi":-75,"psi":-33},{"phi":-71,"psi":-34},{"phi":-67,"psi":-34},{"phi":-63,"psi":-35},{"phi":-59,"psi":-34},{"phi":-75,"psi":-37},{"phi":-72,"psi":-38},{"phi":-68,"psi":-38},{"phi":-64,"psi":-38},{"phi":-60,"psi":-38},{"phi":-56,"psi":-37},{"phi":-73,"psi":-41},{"phi":-69,"psi":-42},{"phi":-65,"psi":-42},{"phi":-61,"psi":-41},{"phi":-57,"psi":-41},{"phi":-72,"psi":-45},{"phi":-68,"psi":-45},{"phi":-64,"psi":-46},{"phi":-60,"psi":-45},{"phi":-56,"psi":-45},{"phi":-53,"psi":-44},{"phi":-74,"psi":-48},{"phi":-70,"psi":-49},{"phi":-66,"psi":-49},{"phi":-62,"psi":-49},{"phi":-58,"psi":-48},{"phi":-55,"psi":-48},{"phi":-72,"psi":-52},{"phi":-68,"psi":-52},{"phi":-64,"psi":-53},{"phi":-60,"psi":-52},
{"phi":-78,"psi":-35},{"phi":-76,"psi":-40},{"phi":-76,"psi":-44},{"phi":-76,"psi":-52},{"phi":-74,"psi":-22},{"phi":-56,"psi":-34},{"phi":-54,"psi":-40},{"phi":-52,"psi":-48},{"phi":-68,"psi":-56},{"phi":-60,"psi":-56},{"phi":-72,"psi":-56},{"phi":-66,"psi":-15},{"phi":-62,"psi":-18},{"phi":-70,"psi":-14},
{"phi":-162,"psi":-150},{"phi":-155,"psi":-163},{"phi":-158,"psi":-166},{"phi":-157,"psi":-175},{"phi":-153,"psi":-178},{"phi":-142,"psi":-179},{"phi":-137,"psi":-174},{"phi":-131,"psi":-176},{"phi":-126,"psi":-175},{"phi":-89,"psi":-145},{"phi":-94,"psi":-156},
{"phi":175,"psi":167},{"phi":174,"psi":167},{"phi":45,"psi":79},{"phi":47,"psi":66},{"phi":48,"psi":61},{"phi":49,"psi":51},{"phi":56,"psi":52},{"phi":62,"psi":47},{"phi":57,"psi":44},{"phi":50,"psi":41},{"phi":54,"psi":38},{"phi":57,"psi":39},{"phi":56,"psi":35},{"phi":58,"psi":34},{"phi":58,"psi":31},{"phi":63,"psi":37},{"phi":62,"psi":34},{"phi":66,"psi":34},{"phi":69,"psi":31},{"phi":67,"psi":32},{"phi":72,"psi":33},{"phi":70,"psi":33},{"phi":55,"psi":25},{"phi":61,"psi":25},{"phi":66,"psi":23},{"phi":64,"psi":20},{"phi":60,"psi":13},{"phi":83,"psi":-8},{"phi":173,"psi":-174}],
"sqB":[{"phi":-155,"psi":176},{"phi":-134,"psi":175},{"phi":-130,"psi":179},{"phi":-130,"psi":171},{"phi":-124,"psi":178},{"phi":-125,"psi":174},{"phi":-95,"psi":177},{"phi":-68,"psi":177},{"phi":-139,"psi":168},{"phi":-163,"psi":167},{"phi":-160,"psi":150},{"phi":-158,"psi":147},{"phi":-150,"psi":145},{"phi":-154,"psi":136},{"phi":-149,"psi":136},{"phi":-153,"psi":130},{"phi":-140,"psi":122},{"phi":-136,"psi":117},{"phi":-147,"psi":113},{"phi":-140,"psi":113},{"phi":-130,"psi":116},{"phi":-125,"psi":116},{"phi":-130,"psi":123},{"phi":-124,"psi":123},{"phi":-131,"psi":129},{"phi":-159,"psi":95},{"phi":-139,"psi":93},{"phi":-133,"psi":89},{"phi":-135,"psi":89},{"phi":-131,"psi":89},{"phi":-111,"psi":92},{"phi":-105,"psi":94},{"phi":-95,"psi":102},{"phi":-95,"psi":97},{"phi":-104,"psi":102},{"phi":-101,"psi":102},{"phi":-98,"psi":101},{"phi":-72,"psi":97},{"phi":-70,"psi":105},{"phi":-52,"psi":103},{"phi":-58,"psi":119},{"phi":-44,"psi":127},{"phi":-76,"psi":110},{"phi":-79,"psi":115},{"phi":-70,"psi":117},{"phi":-97,"psi":116},{"phi":-91,"psi":86},{"phi":-87,"psi":83},{"phi":-88,"psi":81},{"phi":-78,"psi":78},{"phi":-112,"psi":79},{"phi":-158,"psi":81},{"phi":-141,"psi":72},{"phi":-95,"psi":63},{"phi":-99,"psi":57},{"phi":-111,"psi":52},{"phi":-111,"psi":46},{"phi":-110,"psi":40},{"phi":-112,"psi":33},{"phi":-115,"psi":25},{"phi":-128,"psi":18},{"phi":-75,"psi":40},{"phi":-137,"psi":46},{"phi":-131,"psi":40},{"phi":-131,"psi":36},{"phi":-86,"psi":2},{"phi":-59,"psi":168},{"phi":-59,"psi":162},{"phi":-57,"psi":155},{"phi":-60,"psi":155},{"phi":-57,"psi":149},{"phi":-57,"psi":137},{"phi":-59,"psi":134},{"phi":-57,"psi":127},{"phi":-53,"psi":126},{"phi":-53,"psi":124},{"phi":-60,"psi":127},
{"phi":-148,"psi":157},{"phi":-146,"psi":160},{"phi":-143,"psi":158},{"phi":-141,"psi":161},{"phi":-138,"psi":162},{"phi":-150,"psi":153},{"phi":-147,"psi":152},{"phi":-144,"psi":154},{"phi":-141,"psi":153},{"phi":-135,"psi":156},{"phi":-132,"psi":160},{"phi":-130,"psi":163},{"phi":-127,"psi":165},{"phi":-128,"psi":160},{"phi":-133,"psi":152},{"phi":-136,"psi":150},{"phi":-131,"psi":148},{"phi":-128,"psi":151},{"phi":-125,"psi":155},{"phi":-124,"psi":148},{"phi":-121,"psi":150},{"phi":-119,"psi":145},{"phi":-122,"psi":143},{"phi":-126,"psi":142},{"phi":-130,"psi":143},{"phi":-134,"psi":144},{"phi":-138,"psi":143},{"phi":-140,"psi":141},{"phi":-143,"psi":137},{"phi":-145,"psi":140},{"phi":-137,"psi":137},{"phi":-133,"psi":135},{"phi":-129,"psi":135},{"phi":-126,"psi":137},{"phi":-123,"psi":135},{"phi":-120,"psi":137},{"phi":-117,"psi":140},{"phi":-115,"psi":143},{"phi":-113,"psi":146},{"phi":-110,"psi":150},{"phi":-112,"psi":157},{"phi":-115,"psi":160},{"phi":-119,"psi":165},{"phi":-116,"psi":168},{"phi":-110,"psi":160},{"phi":-108,"psi":156},{"phi":-106,"psi":151},{"phi":-110,"psi":142},{"phi":-107,"psi":137},{"phi":-104,"psi":133},{"phi":-106,"psi":128},{"phi":-110,"psi":130},{"phi":-114,"psi":131},{"phi":-118,"psi":128},{"phi":-122,"psi":126},{"phi":-125,"psi":129},{"phi":-127,"psi":131},{"phi":-121,"psi":120},{"phi":-118,"psi":122},{"phi":-114,"psi":124},{"phi":-111,"psi":122},{"phi":-108,"psi":124},{"phi":-106,"psi":120},{"phi":-104,"psi":115},{"phi":-107,"psi":110},{"phi":-110,"psi":112},{"phi":-114,"psi":112},{"phi":-118,"psi":110},{"phi":-120,"psi":113},{"phi":-112,"psi":105},{"phi":-108,"psi":108},{"phi":-105,"psi":107},{"phi":-103,"psi":112},{"phi":-101,"psi":118},{"phi":-100,"psi":125},{"phi":-98,"psi":128},{"phi":-96,"psi":124},{"phi":-94,"psi":120},{"phi":-92,"psi":122},{"phi":-91,"psi":127},{"phi":-96,"psi":130},{"phi":-100,"psi":133},{"phi":-88,"psi":130},{"phi":-85,"psi":125},{"phi":-83,"psi":129},{"phi":-80,"psi":123},{"phi":-78,"psi":132},{"phi":-82,"psi":136},{"phi":-86,"psi":138},{"phi":-90,"psi":140},{"phi":-100,"psi":144},{"phi":-96,"psi":146},{"phi":-92,"psi":143},{"phi":-88,"psi":146},{"phi":-84,"psi":143},{"phi":-80,"psi":145},{"phi":-78,"psi":148},{"phi":-92,"psi":155},{"phi":-88,"psi":153},{"phi":-84,"psi":156},{"phi":-80,"psi":160},{"phi":-86,"psi":160},{"phi":-82,"psi":165},{"phi":-78,"psi":170},{"phi":-75,"psi":172},{"phi":-72,"psi":168},{"phi":-70,"psi":165},{"phi":-75,"psi":160},{"phi":-70,"psi":158},{"phi":-66,"psi":160},{"phi":-63,"psi":164},{"phi":-62,"psi":158},{"phi":-76,"psi":155},{"phi":-72,"psi":153},{"phi":-68,"psi":150},{"phi":-64,"psi":152},{"phi":-60,"psi":150},{"phi":-75,"psi":147},{"phi":-70,"psi":145},{"phi":-66,"psi":145},{"phi":-62,"psi":143},{"phi":-58,"psi":144},{"phi":-73,"psi":140},{"phi":-69,"psi":139},{"phi":-65,"psi":139},{"phi":-74,"psi":134},{"phi":-70,"psi":132},{"phi":-66,"psi":132},{"phi":-62,"psi":133},{"phi":-60,"psi":130},{"phi":-76,"psi":128},{"phi":-72,"psi":125},{"phi":-68,"psi":126},{"phi":-64,"psi":126},{"phi":-60,"psi":122},{"phi":-70,"psi":120},{"phi":-66,"psi":121},{"phi":-74,"psi":121},{"phi":-77,"psi":118},{"phi":-90,"psi":115},{"phi":-87,"psi":112},{"phi":-96,"psi":108},{"phi":-99,"psi":105},{"phi":-103,"psi":104},{"phi":-92,"psi":110},{"phi":-85,"psi":105},{"phi":-96,"psi":112},
{"phi":-146,"psi":150},{"phi":-142,"psi":148},{"phi":-138,"psi":155},{"phi":-134,"psi":148},{"phi":-131,"psi":153},{"phi":-126,"psi":146},{"phi":-122,"psi":157},{"phi":-118,"psi":150},{"phi":-116,"psi":152},{"phi":-112,"psi":152},{"phi":-113,"psi":138},{"phi":-116,"psi":136},{"phi":-110,"psi":136},{"phi":-106,"psi":145},{"phi":-103,"psi":128},{"phi":-106,"psi":124},{"phi":-112,"psi":116},{"phi":-116,"psi":116},{"phi":-116,"psi":108},{"phi":-124,"psi":133},{"phi":-128,"psi":128},{"phi":-132,"psi":140},{"phi":-126,"psi":125},{"phi":-122,"psi":118},{"phi":-94,"psi":126},{"phi":-90,"psi":132},{"phi":-86,"psi":133},{"phi":-82,"psi":127},{"phi":-78,"psi":120},{"phi":-72,"psi":118},{"phi":-68,"psi":130},{"phi":-64,"psi":143},{"phi":-60,"psi":140},{"phi":-68,"psi":143},{"phi":-72,"psi":148},{"phi":-76,"psi":152},{"phi":-70,"psi":161},{"phi":-66,"psi":155},{"phi":-62,"psi":147},{"phi":-74,"psi":165},{"phi":-78,"psi":162},{"phi":-82,"psi":150},{"phi":-86,"psi":148},{"phi":-94,"psi":150},{"phi":-98,"psi":138},{"phi":-94,"psi":140},{"phi":-102,"psi":124},{"phi":-96,"psi":118},{"phi":-140,"psi":145},{"phi":-148,"psi":148},{"phi":-136,"psi":160},{"phi":-130,"psi":157},{"phi":-124,"psi":160},
{"phi":-89,"psi":-4},{"phi":-87,"psi":-5},{"phi":-92,"psi":-9},{"phi":-90,"psi":-7},{"phi":-79,"psi":-7},{"phi":-74,"psi":-6},{"phi":-82,"psi":-12},{"phi":-80,"psi":-15},{"phi":-86,"psi":-16},{"phi":-76,"psi":-15},{"phi":-72,"psi":-14},{"phi":-63,"psi":-12},{"phi":-55,"psi":-22},{"phi":-52,"psi":-29},{"phi":-90,"psi":-24},{"phi":-85,"psi":-23},{"phi":-87,"psi":-25},{"phi":-76,"psi":-23},{"phi":-82,"psi":-31},{"phi":-79,"psi":-34},{"phi":-82,"psi":-39},{"phi":-79,"psi":-43},{"phi":-81,"psi":-47},{"phi":-80,"psi":-50},{"phi":-52,"psi":-49},{"phi":-44,"psi":-51},{"phi":-40,"psi":-61},{"phi":-66,"psi":-62},{"phi":-118,"psi":-45},{"phi":-101,"psi":-65},{"phi":-111,"psi":-100},
{"phi":-66,"psi":-16},{"phi":-64,"psi":-18},{"phi":-68,"psi":-20},{"phi":-64,"psi":-21},{"phi":-70,"psi":-24},{"phi":-66,"psi":-24},{"phi":-62,"psi":-25},{"phi":-73,"psi":-27},{"phi":-69,"psi":-28},{"phi":-65,"psi":-28},{"phi":-61,"psi":-28},{"phi":-58,"psi":-29},{"phi":-74,"psi":-31},{"phi":-70,"psi":-32},{"phi":-66,"psi":-32},{"phi":-62,"psi":-32},{"phi":-58,"psi":-33},{"phi":-75,"psi":-35},{"phi":-71,"psi":-36},{"phi":-67,"psi":-36},{"phi":-63,"psi":-36},{"phi":-59,"psi":-36},{"phi":-56,"psi":-35},{"phi":-73,"psi":-40},{"phi":-69,"psi":-40},{"phi":-65,"psi":-40},{"phi":-61,"psi":-40},{"phi":-57,"psi":-40},{"phi":-54,"psi":-38},{"phi":-74,"psi":-44},{"phi":-70,"psi":-44},{"phi":-66,"psi":-44},{"phi":-62,"psi":-44},{"phi":-58,"psi":-44},{"phi":-54,"psi":-43},{"phi":-74,"psi":-48},{"phi":-70,"psi":-48},{"phi":-66,"psi":-48},{"phi":-62,"psi":-48},{"phi":-58,"psi":-48},{"phi":-55,"psi":-47},{"phi":-74,"psi":-52},{"phi":-70,"psi":-52},{"phi":-66,"psi":-52},{"phi":-62,"psi":-52},{"phi":-58,"psi":-52},{"phi":-72,"psi":-55},{"phi":-68,"psi":-56},{"phi":-64,"psi":-55},{"phi":-60,"psi":-55},
{"phi":-78,"psi":-35},{"phi":-77,"psi":-40},{"phi":-77,"psi":-46},{"phi":-76,"psi":-53},{"phi":-72,"psi":-20},{"phi":-55,"psi":-32},{"phi":-53,"psi":-37},{"phi":-52,"psi":-45},{"phi":-70,"psi":-58},{"phi":-62,"psi":-58},{"phi":-68,"psi":-15},{"phi":-62,"psi":-15},{"phi":-72,"psi":-18},{"phi":-60,"psi":-20},{"phi":-56,"psi":-26},
{"phi":-163,"psi":-144},{"phi":-149,"psi":-154},{"phi":-158,"psi":-165},{"phi":-146,"psi":-164},{"phi":-132,"psi":-166},{"phi":-156,"psi":-176},{"phi":-153,"psi":-180},{"phi":-142,"psi":-180},{"phi":-131,"psi":-175},{"phi":-123,"psi":-175},{"phi":-120,"psi":-179},{"phi":-81,"psi":-154},{"phi":-91,"psi":-163},{"phi":-86,"psi":-175},
{"phi":176,"psi":172},{"phi":177,"psi":172},{"phi":49,"psi":75},{"phi":53,"psi":76},{"phi":45,"psi":57},{"phi":57,"psi":50},{"phi":57,"psi":47},{"phi":62,"psi":47},{"phi":50,"psi":44},{"phi":57,"psi":43},{"phi":58,"psi":39},{"phi":63,"psi":39},{"phi":56,"psi":36},{"phi":56,"psi":34},{"phi":58,"psi":32},{"phi":60,"psi":32},{"phi":65,"psi":33},{"phi":67,"psi":30},{"phi":72,"psi":34},{"phi":72,"psi":31},{"phi":84,"psi":28},{"phi":60,"psi":25},{"phi":59,"psi":21},{"phi":60,"psi":15},{"phi":69,"psi":26},{"phi":73,"psi":25},{"phi":67,"psi":28},{"phi":80,"psi":16},{"phi":80,"psi":18},{"phi":68,"psi":2}],
"tagA":[{"t":"(a)","phi":218,"psi":-135}],"tagB":[{"t":"(b)","phi":221,"psi":-166}]
},
"vconcat":[
{"spacing":0,"hconcat":[
{"width":1,"height":10,"view":{"stroke":null},"data":{"values":[]},"mark":{"type":"rule","opacity":0},"encoding":{}},
{"width":765,"height":703,"title":{"text":"ABH04286","font":"Liberation Serif","fontSize":51,"fontWeight":"normal","color":"#222","offset":-7},
"layer":[
{"data":{"name":"regions"},"mark":{"type":"rect","strokeWidth":0.4},"encoding":{"x":{"field":"x1","type":"quantitative","scale":{"domain":[-180,180],"nice":false,"zero":false},"axis":{"title":"Phi (degrees)","titlePadding":9,"values":[-180,-135,-90,-45,0,45,90,135,180],"labelExpr":"datum.value"}},"x2":{"field":"x2"},"y":{"field":"y1","type":"quantitative","scale":{"domain":[-180,180],"nice":false,"zero":false},"axis":{"title":"Psi (degrees)","titlePadding":30,"values":[-180,-135,-90,-45,0,45,90,135,180],"labelExpr":"datum.value"}},"y2":{"field":"y2"},"color":{"field":"z","type":"nominal","legend":null,"scale":{"domain":["core","add","addA","gen","genA"],"range":["#F50000","#FFFF00","#F3F200","#FFFFB4","#F2F2A8"]}},"stroke":{"field":"z","type":"nominal","legend":null,"scale":{"domain":["core","add","addA","gen","genA"],"range":["#F50000","#FFFF00","#F3F200","#FFFFB4","#F2F2A8"]}}}},
{"data":{"name":"edges"},"mark":{"type":"rule","color":"#000","strokeWidth":2,"strokeCap":"square"},"encoding":{"x":{"field":"x1","type":"quantitative"},"x2":{"field":"x2"},"y":{"field":"y1","type":"quantitative"},"y2":{"field":"y2"}}},
{"mark":{"type":"rule","color":"#222","strokeDash":[3,2],"strokeWidth":1},"encoding":{"x":{"datum":0,"type":"quantitative"}}},
{"mark":{"type":"rule","color":"#222","strokeDash":[3,2],"strokeWidth":1},"encoding":{"y":{"datum":0,"type":"quantitative"}}},
{"data":{"name":"zoneLabels"},"mark":{"type":"text","font":"Liberation Serif","fontSize":24,"color":"#333","baseline":"middle"},"encoding":{"x":{"field":"phi","type":"quantitative"},"y":{"field":"psi","type":"quantitative"},"text":{"field":"t"}}},
{"data":{"name":"fringeLabels"},"mark":{"type":"text","font":"Liberation Serif","fontSize":20,"color":"#333","baseline":"middle"},"encoding":{"x":{"field":"phi","type":"quantitative"},"y":{"field":"psi","type":"quantitative"},"text":{"field":"t"}}},
{"data":{"name":"sqA"},"mark":{"type":"square","color":"#000","size":75,"opacity":1},"encoding":{"x":{"field":"phi","type":"quantitative"},"y":{"field":"psi","type":"quantitative"}}},
{"data":{"name":"triA"},"mark":{"type":"point","shape":"triangle-up","filled":true,"color":"#000","size":70,"opacity":1},"encoding":{"x":{"field":"phi","type":"quantitative"},"y":{"field":"psi","type":"quantitative"}}},
{"data":{"name":"flaggedA"},"mark":{"type":"square","color":"#F50000","stroke":"#333","strokeWidth":1,"size":50,"opacity":1},"encoding":{"x":{"field":"phi","type":"quantitative"},"y":{"field":"psi","type":"quantitative"}}},
{"data":{"name":"flaggedA"},"mark":{"type":"text","font":"Liberation Serif","fontSize":18,"color":"#FF2A2A","dx":-2,"dy":-12},"encoding":{"x":{"field":"phi","type":"quantitative"},"y":{"field":"psi","type":"quantitative"},"text":{"field":"t"}}},
{"data":{"name":"tagA"},"mark":{"type":"text","font":"Liberation Serif","fontSize":28,"color":"#333","clip":false},"encoding":{"x":{"field":"phi","type":"quantitative"},"y":{"field":"psi","type":"quantitative"},"text":{"field":"t"}}}
]}
]},
{"spacing":0,"hconcat":[
{"width":11,"height":10,"view":{"stroke":null},"data":{"values":[]},"mark":{"type":"rule","opacity":0},"encoding":{}},
{"width":779,"height":713,"title":{"text":"AHI48847","font":"Liberation Serif","fontSize":51,"fontWeight":"normal","color":"#222","offset":-7,"dx":-12},
"layer":[
{"data":{"name":"regions"},"mark":{"type":"rect","strokeWidth":0.4},"encoding":{"x":{"field":"x1","type":"quantitative","scale":{"domain":[-180,180],"nice":false,"zero":false},"axis":{"title":"Phi (degrees)","titlePadding":9,"values":[-180,-135,-90,-45,0,45,90,135,180],"labelExpr":"datum.value"}},"x2":{"field":"x2"},"y":{"field":"y1","type":"quantitative","scale":{"domain":[-180,180],"nice":false,"zero":false},"axis":{"title":"Psi (degrees)","titlePadding":30,"values":[-180,-135,-90,-45,0,45,90,135,180],"labelExpr":"datum.value"}},"y2":{"field":"y2"},"color":{"field":"z","type":"nominal","legend":null,"scale":{"domain":["core","add","addA","gen","genA"],"range":["#F50000","#FFFF00","#F3F200","#FFFFB4","#F2F2A8"]}},"stroke":{"field":"z","type":"nominal","legend":null,"scale":{"domain":["core","add","addA","gen","genA"],"range":["#F50000","#FFFF00","#F3F200","#FFFFB4","#F2F2A8"]}}}},
{"data":{"name":"edges"},"mark":{"type":"rule","color":"#000","strokeWidth":2,"strokeCap":"square"},"encoding":{"x":{"field":"x1","type":"quantitative"},"x2":{"field":"x2"},"y":{"field":"y1","type":"quantitative"},"y2":{"field":"y2"}}},
{"mark":{"type":"rule","color":"#222","strokeDash":[3,2],"strokeWidth":1},"encoding":{"x":{"datum":0,"type":"quantitative"}}},
{"mark":{"type":"rule","color":"#222","strokeDash":[3,2],"strokeWidth":1},"encoding":{"y":{"datum":0,"type":"quantitative"}}},
{"data":{"name":"zoneLabels"},"mark":{"type":"text","font":"Liberation Serif","fontSize":24,"color":"#333","baseline":"middle"},"encoding":{"x":{"field":"phi","type":"quantitative"},"y":{"field":"psi","type":"quantitative"},"text":{"field":"t"}}},
{"data":{"name":"fringeLabels"},"mark":{"type":"text","font":"Liberation Serif","fontSize":20,"color":"#333","baseline":"middle"},"encoding":{"x":{"field":"phi","type":"quantitative"},"y":{"field":"psi","type":"quantitative"},"text":{"field":"t"}}},
{"data":{"name":"sqB"},"mark":{"type":"square","color":"#000","size":75,"opacity":1},"encoding":{"x":{"field":"phi","type":"quantitative"},"y":{"field":"psi","type":"quantitative"}}},
{"data":{"name":"triB"},"mark":{"type":"point","shape":"triangle-up","filled":true,"color":"#000","size":70,"opacity":1},"encoding":{"x":{"field":"phi","type":"quantitative"},"y":{"field":"psi","type":"quantitative"}}},
{"data":{"name":"flaggedB"},"mark":{"type":"square","color":"#F50000","stroke":"#333","strokeWidth":1,"size":50,"opacity":1},"encoding":{"x":{"field":"phi","type":"quantitative"},"y":{"field":"psi","type":"quantitative"}}},
{"data":{"name":"flaggedB"},"mark":{"type":"text","font":"Liberation Serif","fontSize":18,"color":"#FF2A2A","dx":-2,"dy":-12},"encoding":{"x":{"field":"phi","type":"quantitative"},"y":{"field":"psi","type":"quantitative"},"text":{"field":"t"}}},
{"data":{"name":"tagB"},"mark":{"type":"text","font":"Liberation Serif","fontSize":28,"color":"#333","clip":false},"encoding":{"x":{"field":"phi","type":"quantitative"},"y":{"field":"psi","type":"quantitative"},"text":{"field":"t"}}}
]}
]}
]}
